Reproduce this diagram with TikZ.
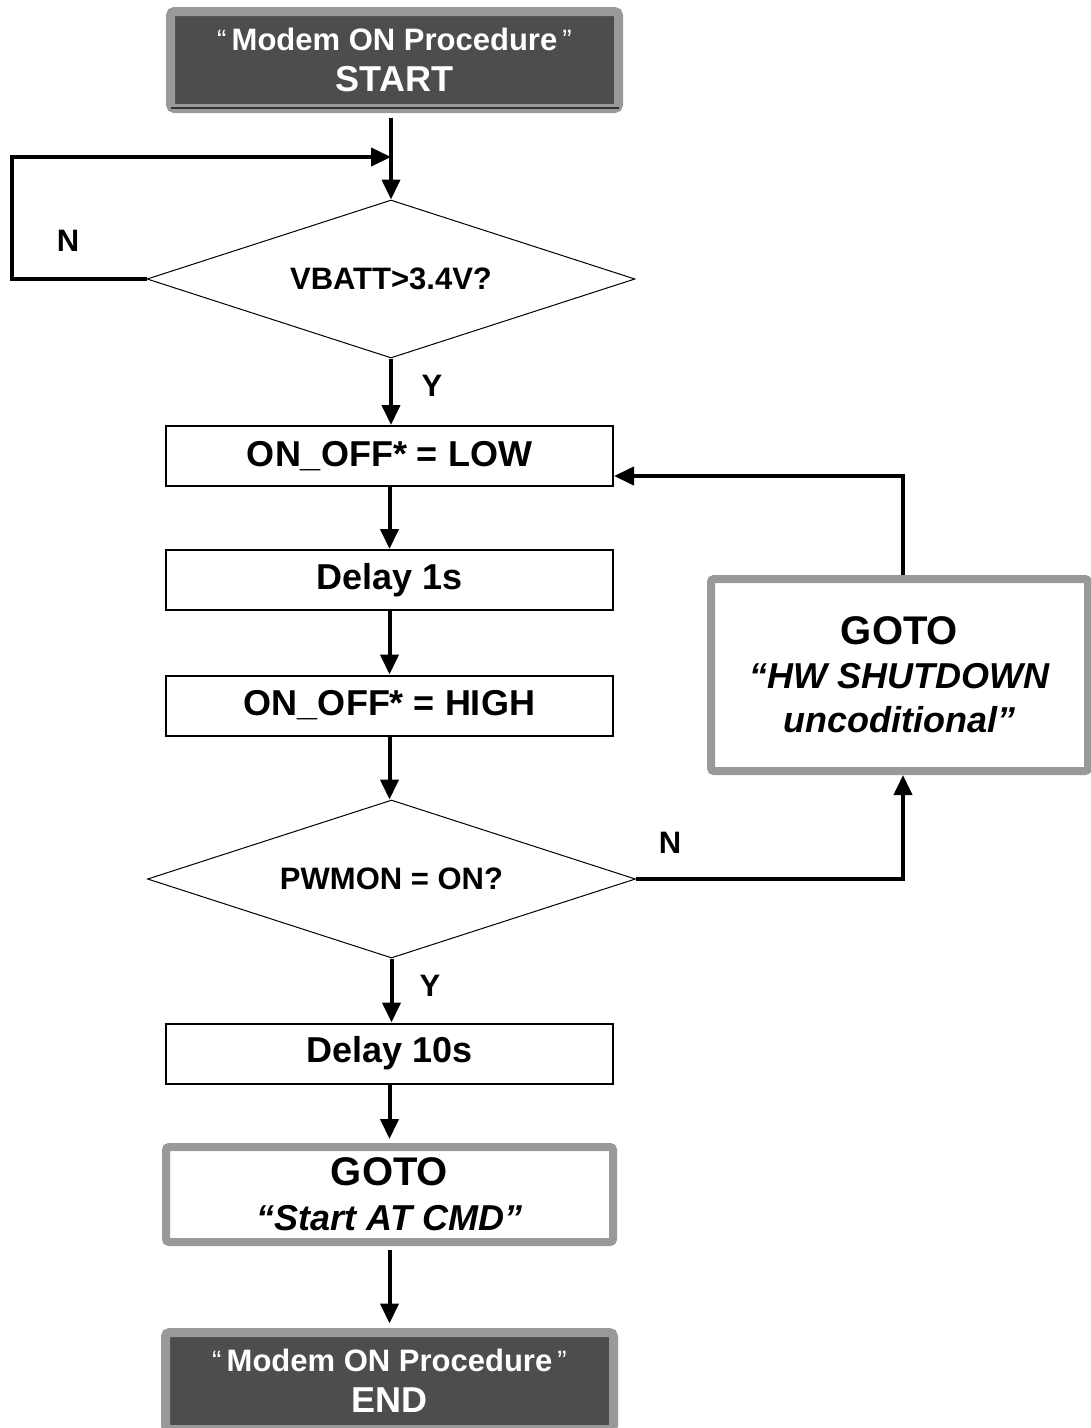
\documentclass[tikz,border=0pt]{standalone}
\usepackage{fontspec}
\setmainfont{Liberation Sans}
\usetikzlibrary{shapes.geometric,arrows.meta,calc}
\definecolor{boxgray}{HTML}{999999}
\definecolor{darkfill}{HTML}{4D4D4D}
\newcommand\smq[1]{\raisebox{1pt}{\fontsize{28}{28}\selectfont\mdseries #1}}
\begin{document}
\begin{tikzpicture}[x=1pt,y=-1pt,
  conn/.style={line width=4pt, -{Triangle[length=20pt,width=18pt]}},
  procbox/.style={draw=black, line width=2pt, minimum width=447pt, minimum height=60pt, inner sep=0pt, font=\fontsize{36}{44}\selectfont\bfseries},
  decision/.style={diamond, draw=black, line width=1pt, minimum width=488pt, minimum height=158pt, inner sep=0pt, shape aspect=3.09, font=\fontsize{31}{36}\selectfont\bfseries},
  termbox/.style={draw=boxgray, fill=darkfill, line width=9pt, rounded corners=4pt, minimum width=448pt, minimum height=97pt, inner sep=0pt, align=center, text=white, font=\fontsize{36}{41}\selectfont\bfseries},
  gotobox/.style={draw=boxgray, fill=white, line width=8pt, rounded corners=3pt, inner sep=0pt, align=center, font=\fontsize{36}{45}\selectfont\bfseries},
  lbl/.style={font=\fontsize{31}{31}\selectfont\bfseries, inner sep=0pt}
]
\useasboundingbox (0,0) rectangle (1091,1428);
\clip (0,0) rectangle (1091,1428);
\fill[white] (0,0) rectangle (1091,1428);

\node[termbox] (start) at (394.5,60) {{\fontsize{31}{41}\selectfont\smq{“}\,Modem ON Procedure\,\smq{”}}\\START};
\draw[line width=2pt, color=black!80] ($(start.south west)+(4.5,-5.5)$) -- ($(start.south east)+(-4.5,-5.5)$);
\node[decision] (d1) at (391,279) {VBATT>3.4V?};
\node[procbox] (b1) at (389.5,456) {ON\_OFF* = LOW};
\node[procbox] (b2) at (389.5,580) {Delay 1s};
\node[procbox] (b3) at (389.5,705.5) {ON\_OFF* = HIGH};
\node[decision] (d2) at (391.5,879) {PWMON = ON?};
\node[procbox] (b4) at (389.5,1053.5) {Delay 10s};
\node[gotobox, minimum width=447pt, minimum height=95pt] (g1) at (389.5,1194.5) {{\fontsize{40}{45}\selectfont GOTO}\\\textit{“Start AT CMD”}};
\node[gotobox, minimum width=377pt, minimum height=192pt, font=\fontsize{36}{44}\selectfont\bfseries] (g2) at (899.5,675) {{\fontsize{40}{44}\selectfont GOTO}\\\textit{“HW SHUTDOWN}\\\textit{uncoditional”}};
\node[termbox] (end) at (389.5,1381) {{\fontsize{31}{41}\selectfont\smq{“}\,Modem ON Procedure\,\smq{”}}\\END};
\draw[line width=2pt, color=black!80] ($(end.south west)+(4.5,-5.5)$) -- ($(end.south east)+(-4.5,-5.5)$);

% labels
\node[lbl] (nl) at (68,241) {N};
\node[lbl] (yl1) at (432,386) {Y};
\node[lbl] (nr) at (670,843) {N};
\node[lbl] (yl2) at (430,986) {Y};

% helper coordinates
\coordinate (h157) at (0,157);
\coordinate (lx) at (12,218);
\coordinate (jn) at (d1.north |- h157);
\coordinate (h476) at (0,476);
\coordinate (b1in) at (b1.east |- h476);
\coordinate (g2in) at (903,771);
\coordinate (g2out) at (903,579);

% connectors
\draw[conn, shorten <=4.5pt] (start.south -| d1.north) -- (d1.north);
\draw[conn] (d1.west) -| (lx) |- (jn);
\draw[conn] (d1.south) -- (d1.south |- b1.north);
\draw[conn] (b1.south) -- (b2.north);
\draw[conn] (b2.south) -- (b3.north);
\draw[conn] (b3.south) -- (b3.south |- d2.north);
\draw[conn] (d2.south) -- (d2.south |- b4.north);
\draw[conn, shorten >=4pt] (b4.south) -- (g1.north);
\draw[conn, shorten <=4pt, shorten >=4.5pt] (g1.south) -- (end.north);
\draw[conn, shorten >=4pt] (d2.east) -| (g2in);
\draw[conn, shorten <=4pt] (g2out) |- (b1in);
\end{tikzpicture}
\end{document}
